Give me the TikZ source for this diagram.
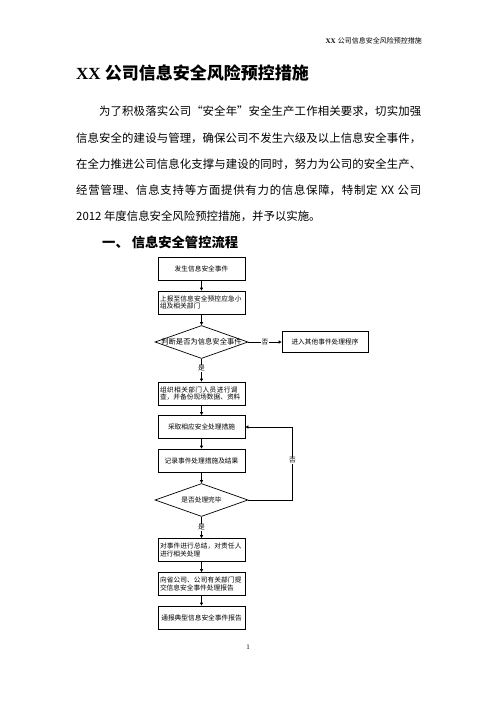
\documentclass[tikz,border=0pt]{standalone}
\usepackage{fontspec}
\setmainfont{Liberation Serif}
\newfontfamily\cjk{Noto Sans CJK SC}
\usetikzlibrary{shapes.geometric,arrows.meta}
\XeTeXlinebreaklocale "zh"
\XeTeXlinebreakskip=0pt plus 1pt
\begin{document}
\begin{tikzpicture}[x=1pt,y=-1pt,
		stepbox/.style={draw, line width=0.7pt, minimum width=87pt, minimum height=23pt, inner sep=1.5pt, font=\cjk\fontsize{6.7}{7.6}\selectfont},
		widebox/.style={stepbox, text width=83pt, align=left},
		check/.style={draw, diamond, line width=0.7pt, minimum width=93pt, minimum height=33pt, inner sep=0pt, font=\cjk\fontsize{6.7}{7.6}\selectfont},
		flow/.style={line width=0.7pt, -{Triangle[length=3pt,width=3pt]}},
		answer/.style={fill=white, inner sep=0.8pt, font=\cjk\fontsize{6.7}{7.6}\selectfont}]
		\useasboundingbox (0,0) rectangle (496,702);

		\node[anchor=base east, inner sep=0pt, font=\fontsize{7}{8}\selectfont] (header) at (422,43.5) {\bfseries XX\hspace{2pt}{\cjk\mdseries 公司信息安全风险预控措施}};
		\node[anchor=base west, inner sep=0pt, font=\fontsize{17}{20}\selectfont] (title) at (76,79.5) {\bfseries XX\hspace{4pt}{\cjk 公司信息安全风险预控措施}};

		\node[anchor=north west, text width=345pt, align=justify, inner sep=0pt, font=\cjk\fontsize{11.4}{26.2}\selectfont] (intro) at (76,106) {\hspace*{23pt}为了积极落实公司“安全年”安全生产工作相关要求，切实加强\linebreak
		信息安全的建设与管理，确保公司不发生六级及以上信息安全事件，\linebreak
		在全力推进公司信息化支撑与建设的同时，努力为公司的安全生产、\linebreak
		经营管理、信息支持等方面提供有力的信息保障，特制定 XX 公司\linebreak
		2012 年度信息安全风险预控措施，并予以实施。};

		\node[anchor=base west, inner sep=0pt, font=\cjk\bfseries\fontsize{13.3}{16}\selectfont] (section) at (102,247) {一、\hspace{3pt}信息安全管控流程};

		\node[stepbox] (occur) at (201.5,268.5) {发生信息安全事件};
		\node[widebox] (report) at (201.5,302.5) {上报至信息安全预控应急小组及相关部门};
		\node[check] (judge) at (201.5,342) {\makebox[0pt]{\fontsize{7.3}{8}\selectfont 判断是否为信息安全事件}};
		\node[stepbox, minimum width=86pt, minimum height=21pt] (other) at (325,342) {进入其他事件处理程序};
		\node[widebox] (probe) at (201.5,393.5) {组织相关部门人员进行调查，并备份现场数据、资料};
		\node[stepbox] (act) at (201.5,427) {采取相应安全处理措施};
		\node[stepbox] (record) at (201.5,460.5) {记录事件处理措施及结果};
		\node[check] (done) at (201.5,500) {\makebox[0pt]{是否处理完毕}};
		\node[widebox] (summary) at (201.5,550) {对事件进行总结，对责任人进行相关处理};
		\node[widebox] (submit) at (201.5,584) {向省公司、公司有关部门提交信息安全事件处理报告};
		\node[stepbox] (notice) at (201.5,617.5) {通报典型信息安全事件报告};

		\draw[flow] (occur) -- (report);
		\draw[flow] (report) -- (judge);
		\draw[flow] (judge) -- node[answer] {否} (other);
		\draw[flow] (judge) -- node[answer, pos=0.42] {是} (probe);
		\draw[flow] (probe) -- (act);
		\draw[flow] (act) -- (record);
		\draw[flow] (record) -- (done);
		\draw[flow] (done.east) -- ++(44,0) |- node[answer, pos=0.27] {否} (act.east);
		\draw[flow] (done) -- node[answer] {是} (summary);
		\draw[flow] (summary) -- (submit);
		\draw[flow] (submit) -- (notice);

		\node[inner sep=0pt, font=\fontsize{7}{8}\selectfont] (pageno) at (248,647) {1};

	\end{tikzpicture}
\end{document}
